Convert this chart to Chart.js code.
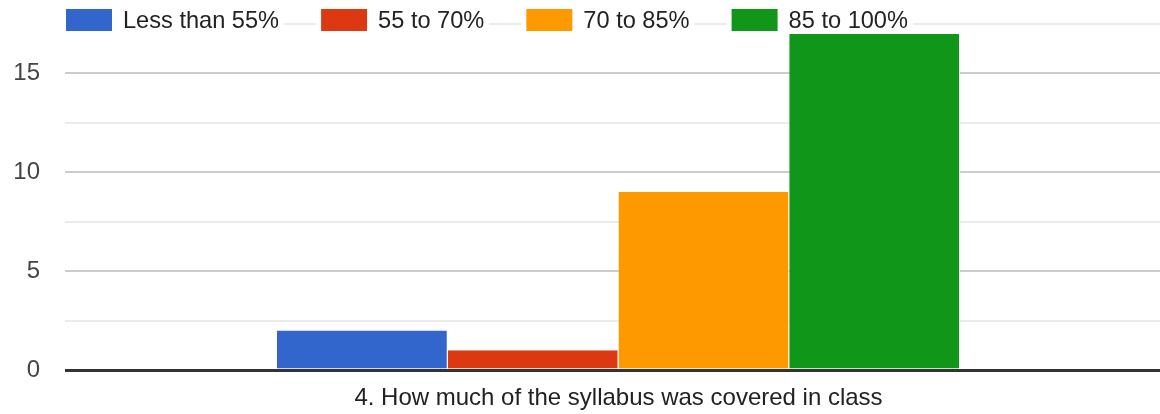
<!DOCTYPE html>
<html>
<head>
<meta charset="utf-8">
<script src="https://cdn.jsdelivr.net/npm/chart.js@4"></script>
<style>
  html, body { margin: 0; background: #fff; overflow: hidden; }
  canvas { display: block; }
</style>
</head>
<body>
<!-- plot runs a bit past the right edge of the window, as in the original -->
<canvas id="syllabus" width="1172" height="414"></canvas>
<script>
const categories = ['4. How much of the syllabus was covered in class'];
const seriesNames = ['Less than 55%', '55 to 70%', '70 to 85%', '85 to 100%'];
const seriesValues = [[2], [1], [9], [17]];
const seriesColors = ['#3366cc', '#dc3912', '#ff9900', '#109618'];
const tickLabels = [0, 5, 10, 15];

const fontFamily = 'Arial, "Liberation Sans", sans-serif';

// legend sits on top of the highest gridline, like the google forms chart
const topLegend = {
  id: 'topLegend',
  afterDraw(chart) {
    const ctx = chart.ctx;
    let x = 66;
    const boxW = 46, boxH = 22, boxY = 9;
    ctx.save();
    ctx.font = '23.6px ' + fontFamily;
    ctx.textBaseline = 'middle';
    chart.data.datasets.forEach(ds => {
      const w = ctx.measureText(ds.label).width;
      ctx.fillStyle = '#fff';
      ctx.fillRect(x - 5, 14, boxW + 11 + w + 10, 20);
      ctx.fillStyle = ds.backgroundColor;
      ctx.fillRect(x, boxY, boxW, boxH);
      ctx.fillStyle = '#222';
      ctx.fillText(ds.label, x + boxW + 11, 21);
      x += boxW + 11 + w + 42;
    });
    ctx.restore();
  }
};

new Chart(document.getElementById('syllabus'), {
  type: 'bar',
  data: {
    labels: categories,
    datasets: seriesNames.map((name, i) => ({
      label: name,
      data: seriesValues[i],
      backgroundColor: seriesColors[i],
      borderColor: '#fff',
      borderWidth: { left: 0, right: 1, top: 0, bottom: 0 },
      categoryPercentage: 0.617,
      barPercentage: 1
    }))
  },
  options: {
    responsive: false,
    animation: false,
    layout: { padding: { top: 24, left: 0, right: 0, bottom: 0 } },
    plugins: {
      legend: { display: false },
      tooltip: { enabled: false }
    },
    scales: {
      x: {
        grid: { display: false },
        border: { display: false },
        ticks: { color: '#222', padding: 6, maxRotation: 0, font: { size: 24, family: fontFamily } },
        afterFit: s => { s.height = 44; }
      },
      y: {
        min: 0,
        max: 17.5,
        border: { display: false },
        grid: {
          drawTicks: false,
          color: c => c.tick.value === 0 ? '#333' : (tickLabels.includes(c.tick.value) ? '#cccccc' : '#ebebeb'),
          lineWidth: c => c.tick.value === 0 ? 3 : 2
        },
        ticks: {
          stepSize: 2.5,
          padding: 25,
          color: '#444',
          font: { size: 24, family: fontFamily },
          callback: v => tickLabels.includes(v) ? v : ''
        },
        afterFit: s => { s.width = 65; s.paddingTop = 0; s.paddingBottom = 0; }
      }
    }
  },
  plugins: [topLegend]
});
</script>
</body>
</html>
